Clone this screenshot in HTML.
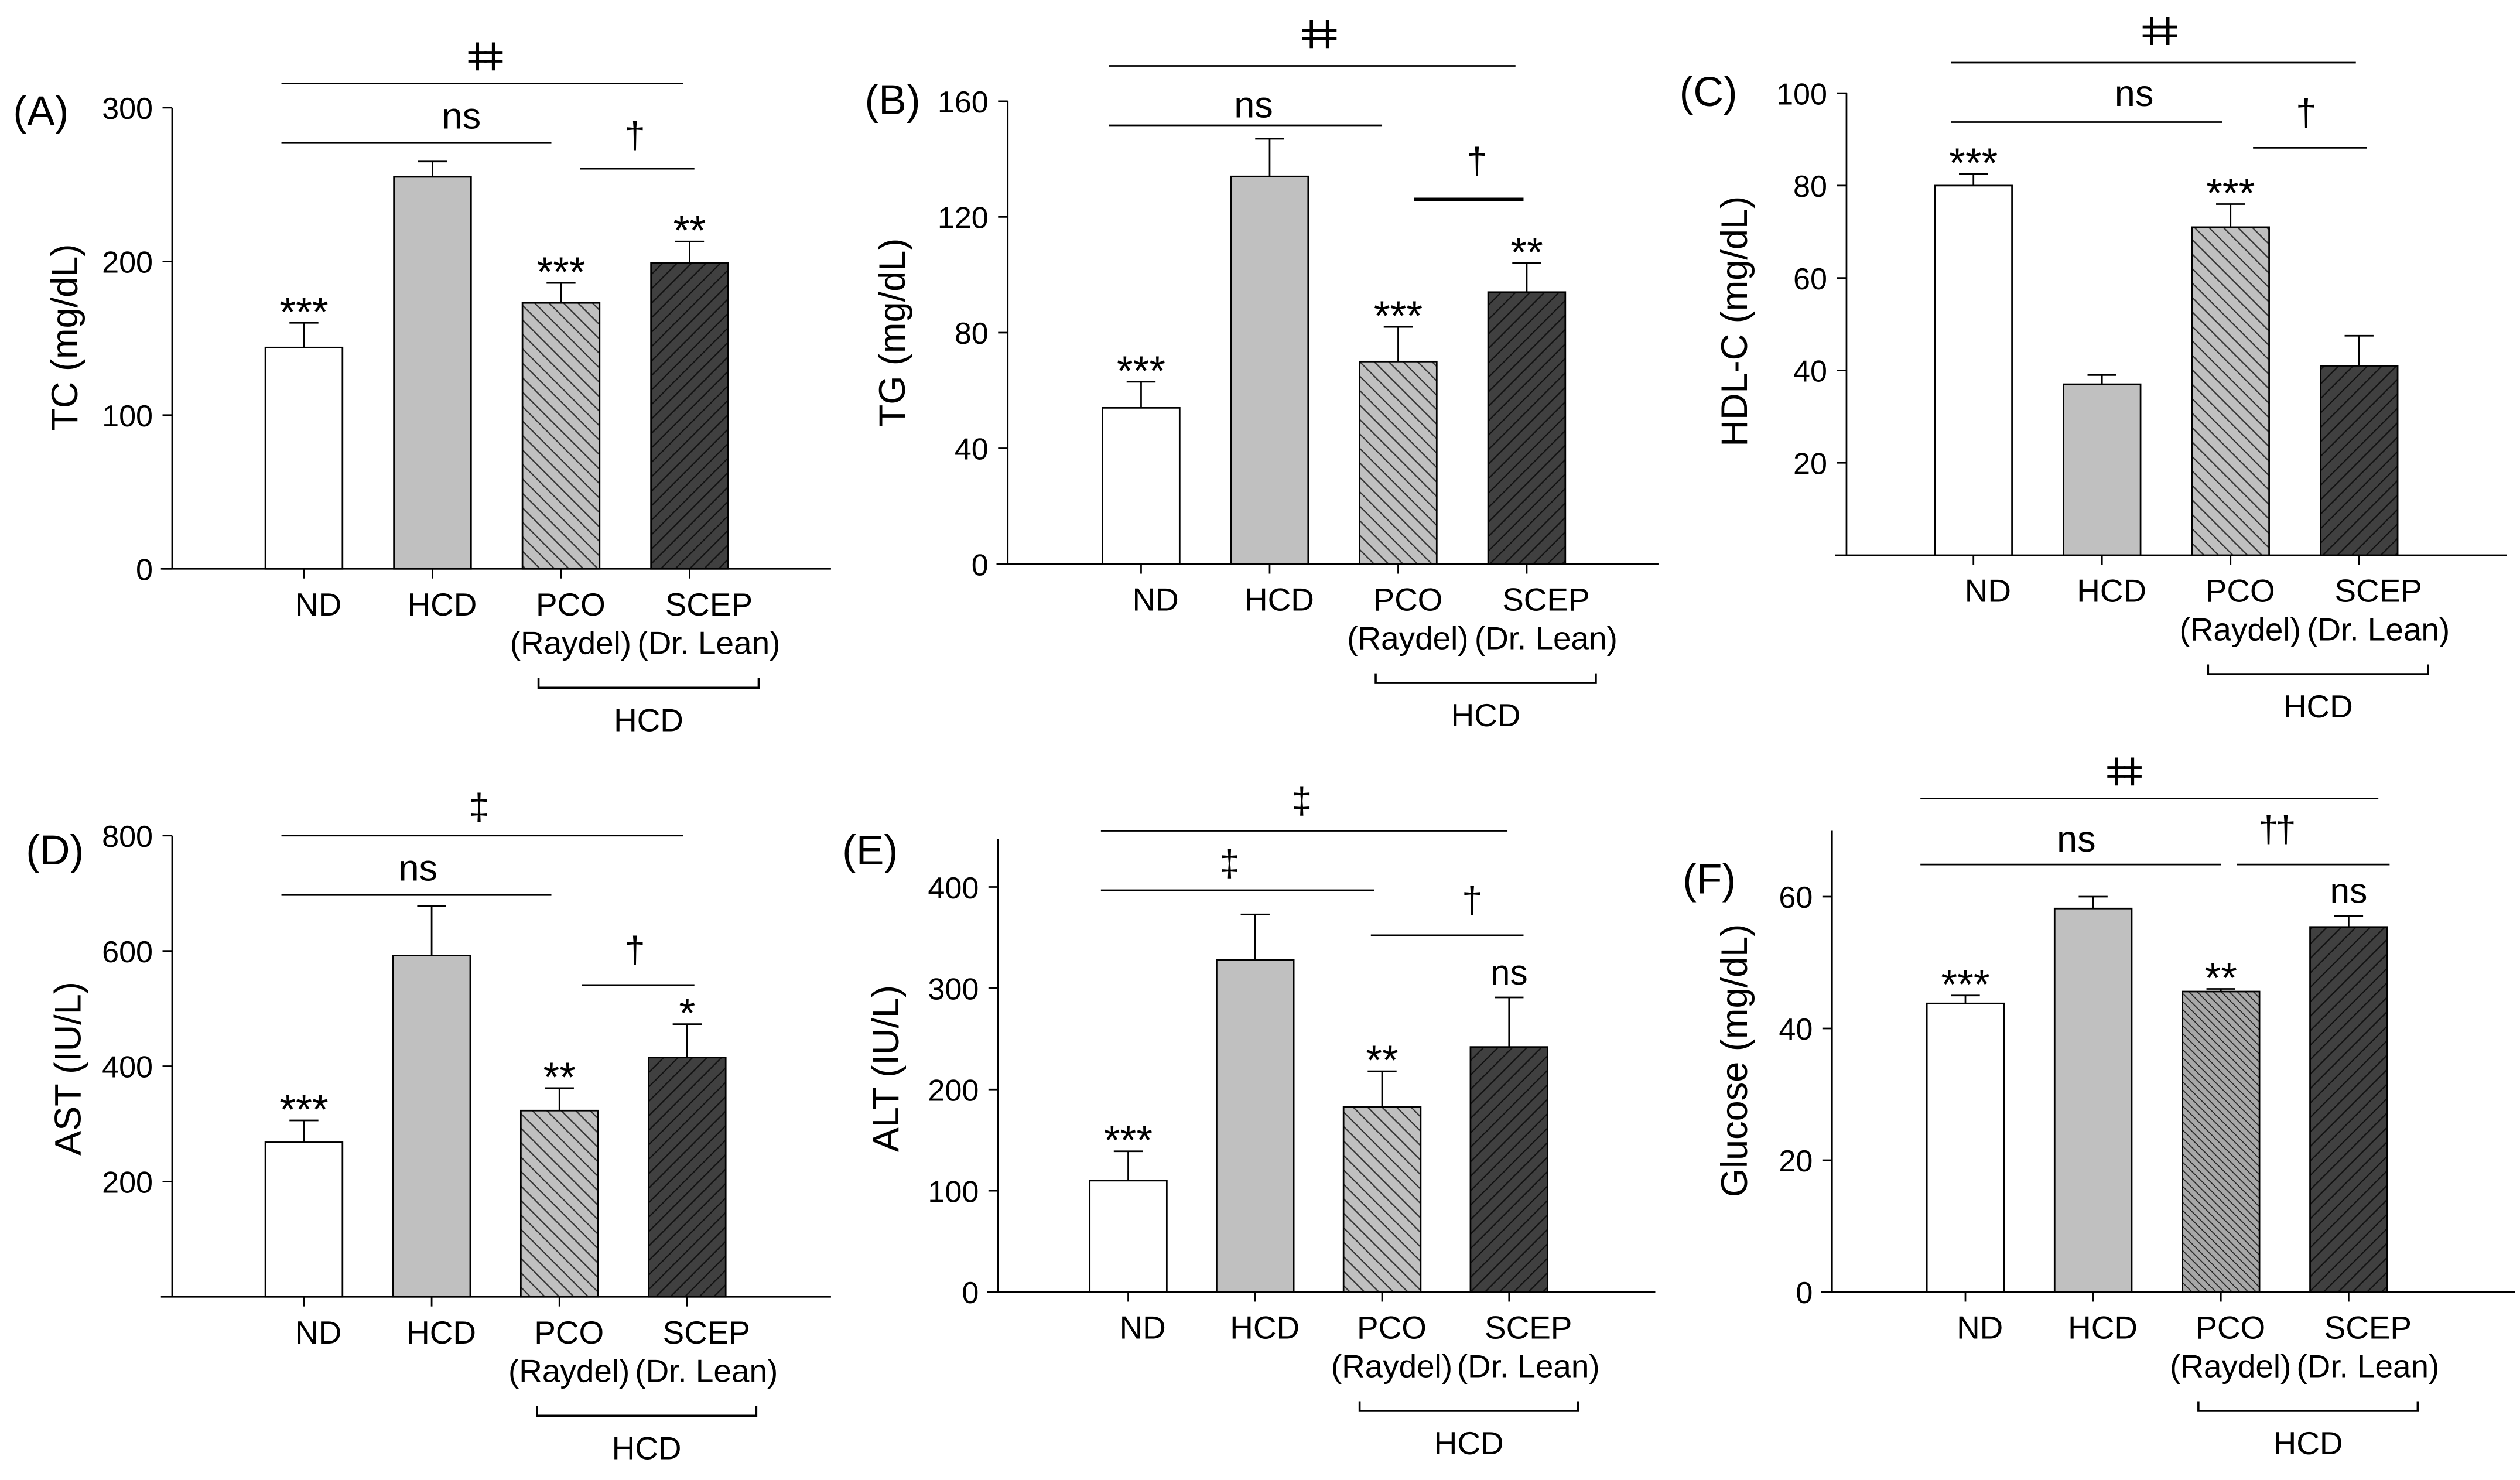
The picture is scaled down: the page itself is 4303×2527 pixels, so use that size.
<!DOCTYPE html>
<html><head><meta charset="utf-8"><style>
html,body{margin:0;padding:0;background:#fff;}
svg{display:block;}
text{font-family:"Liberation Sans","DejaVu Sans",sans-serif;fill:#000;}
</style></head><body>
<svg id="fig" width="4303" height="2527" viewBox="0 0 1568 921" xmlns="http://www.w3.org/2000/svg">
<defs>
<pattern id="hatchBack" patternUnits="userSpaceOnUse" width="9" height="9">
<rect width="9" height="9" fill="#c0c0c0"/><path d="M-1,-1 L10,10 M-1,8 L1,10 M8,-1 L10,1" stroke="#333" stroke-width="0.8"/></pattern>
<pattern id="hatchBackDense" patternUnits="userSpaceOnUse" width="5" height="5">
<rect width="5" height="5" fill="#a8a8a8"/><path d="M-1,-1 L6,6 M-1,4 L1,6 M4,-1 L6,1" stroke="#222" stroke-width="0.6"/></pattern>
<pattern id="hatchFwd" patternUnits="userSpaceOnUse" width="9" height="9">
<rect width="9" height="9" fill="#404040"/><path d="M-1,10 L10,-1 M-1,1 L1,-1 M8,10 L10,8" stroke="#111" stroke-width="0.8"/></pattern>
</defs>
</svg>
<script>
// ---- data ----
const categories = ["ND", "HCD", "PCO", "SCEP"];
const subLabels = ["", "", "(Raydel)", "(Dr. Lean)"];
const tcValues = [144, 255, 173, 199];
const tcErrors = [16, 10, 13, 14];
const tgValues = [54, 134, 70, 94];
const tgErrors = [9, 13, 12, 10];
const hdlValues = [80, 37, 71, 41];
const hdlErrors = [2.5, 2, 5, 6.5];
const astValues = [268, 592, 323, 415];
const astErrors = [38, 86, 39, 58];
const altValues = [110, 328, 183, 242];
const altErrors = [29, 45, 35, 49];
const gluValues = [43.8, 58.2, 45.6, 55.4];
const gluErrors = [1.2, 1.8, 0.4, 1.7];
const tcTicks = [0, 100, 200, 300];
const tgTicks = [0, 40, 80, 120, 160];
const hdlTicks = [20, 40, 60, 80, 100];
const astTicks = [200, 400, 600, 800];
const altTicks = [0, 100, 200, 300, 400];
const gluTicks = [0, 20, 40, 60];
const tcStars = ["***", "", "***", "**"];
const tgStars = ["***", "", "***", "**"];
const hdlStars = ["***", "", "***", ""];
const astStars = ["***", "", "**", "*"];
const altStars = ["***", "", "**", "ns"];
const gluStars = ["***", "", "**", "ns"];

const NS = "http://www.w3.org/2000/svg";
const svg = document.getElementById("fig");
function mk(tag, attrs, parent, txt){
  const e = document.createElementNS(NS, tag);
  for (const k in attrs) e.setAttribute(k, attrs[k]);
  if (txt !== undefined) e.textContent = txt;
  (parent || svg).appendChild(e);
  return e;
}
const fills = ["#ffffff", "#c0c0c0", "url(#hatchBack)", "url(#hatchFwd)"];

function panel(p){
  const g = mk("g", {});
  
  
  const y = v => p.y0 - (v / p.refVal) * (p.y0 - p.refPix);
  const ya = mk("line", {x1:p.ax, y1:p.axTop, x2:p.ax, y2:p.y0, stroke:"#000", "stroke-width":1}, g);
  
  
  const xa = mk("line", {x1:p.ax - 7, y1:p.y0, x2:p.axEnd, y2:p.y0, stroke:"#000", "stroke-width":1}, g);
  
  
  p.ticks.forEach(t => {
    const yy = y(t);
    mk("line", {x1:p.ax - 6, y1:yy, x2:p.ax, y2:yy, stroke:"#000", "stroke-width":1}, g);
    const tl = mk("text", {x:p.ax - 12, y:yy + 7, "text-anchor":"end", "font-size":19}, g, String(t));
    
    
  });
  const yt = mk("text", {x:p.ylx, y:p.yly, "text-anchor":"middle", "font-size":23, transform:"rotate(-90 " + p.ylx + " " + p.yly + ")"}, g, p.ytitle);
  
  
  const pl = mk("text", {x:p.plx, y:p.ply, "font-size":26}, g, p.label);
  
  
  p.values.forEach((v, i) => {
    const x0 = p.bar0 + i * p.step, w = 48, cx = x0 + w / 2;
    const top = y(v), et = y(v + p.errors[i]);
    mk("line", {x1:cx, y1:top, x2:cx, y2:et, stroke:"#000", "stroke-width":1}, g);
    mk("line", {x1:cx - 9, y1:et, x2:cx + 9, y2:et, stroke:"#000", "stroke-width":1}, g);
    const r = mk("rect", {x:x0, y:top, width:w, height:p.y0 - top, fill:(i === 2 && p.dense) ? "url(#hatchBackDense)" : fills[i], stroke:"#000", "stroke-width":1}, g);
    
    
    mk("line", {x1:cx, y1:p.y0, x2:cx, y2:p.y0 + 6, stroke:"#000", "stroke-width":1}, g);
    if (p.stars[i]) {
      const isNs = p.stars[i] === "ns";
      const st = mk("text", {x:cx, y:et - 8 + (isNs ? 0 : 10), "text-anchor":"middle", "font-size":isNs ? 22 : 26}, g, p.stars[i]);
      
      
    }
    const off = i === 0 ? 9 : (i === 3 ? 12 : 6);
    const cl = mk("text", {x:cx + off, y:p.y0 + 29, "text-anchor":"middle", "font-size":20}, g, categories[i]);
    
    
    if (subLabels[i]) {
      const sl = mk("text", {x:cx + off, y:p.y0 + 53, "text-anchor":"middle", "font-size":20}, g, subLabels[i]);
      
      
    }
  });
  const bx1 = p.bar0 + 2 * p.step + 10, bx2 = p.bar0 + 3 * p.step + 67, by = p.y0 + 74;
  const br = mk("path", {d:"M" + bx1 + "," + (by - 6) + " L" + bx1 + "," + by + " L" + bx2 + "," + by + " L" + bx2 + "," + (by - 6), fill:"none", stroke:"#000", "stroke-width":1.3}, g);
  
  
  const bt = mk("text", {x:(bx1 + bx2) / 2, y:by + 27, "text-anchor":"middle", "font-size":20}, g, "HCD");
  
  
  p.sig.forEach(s => {
    const l = mk("line", {x1:s[0], y1:s[2], x2:s[1], y2:s[2], stroke:"#000", "stroke-width":s[5] || 1}, g);
    
    
    const t = mk("text", {x:s[3], y:s[4], "text-anchor":"middle", "font-size":s[6] || 23, "letter-spacing":s[7] || 0}, g, s[8]);
    
    
  });
}

panel({id:"a", label:"(A)", plx:8, ply:78, ytitle:"TC (mg/dL)", ylx:48, yly:210, ax:107, axTop:67, axEnd:517, y0:354, refVal:300, refPix:67, ticks:tcTicks, bar0:165, step:80, values:tcValues, errors:tcErrors, stars:tcStars,
  sig:[[175,425,52,300,44,1,24,-4,"ǂǂ"],[175,343,89,287,80,1,23,0,"ns"],[361,432,105,395,92,1,23,0,"†"]]});
panel({id:"b", label:"(B)", plx:538, ply:71, ytitle:"TG (mg/dL)", ylx:563, yly:207, ax:627, axTop:63, axEnd:1032, y0:351, refVal:160, refPix:63, ticks:tgTicks, bar0:686, step:80, values:tgValues, errors:tgErrors, stars:tgStars,
  sig:[[690,943,41,819,30,1,24,-4,"ǂǂ"],[690,860,78,780,73,1,23,0,"ns"],[880,948,124,919,108,2,23,0,"†"]]});
panel({id:"c", label:"(C)", plx:1045, ply:66, ytitle:"HDL-C (mg/dL)", ylx:1087, yly:200, ax:1149, axTop:58, axEnd:1560, y0:345.5, refVal:100, refPix:58, ticks:hdlTicks, bar0:1204, step:80, values:hdlValues, errors:hdlErrors, stars:hdlStars,
  sig:[[1214,1466,39,1342,28,1,24,-4,"ǂǂ"],[1214,1383,76,1328,66,1,23,0,"ns"],[1402,1473,92,1435,78,1,23,0,"†"]]});
panel({id:"d", label:"(D)", plx:16, ply:538, ytitle:"AST (IU/L)", ylx:50, yly:665, ax:107, axTop:520, axEnd:517, y0:807, refVal:800, refPix:520, ticks:astTicks, bar0:165, step:79.5, values:astValues, errors:astErrors, stars:astStars,
  sig:[[175,425,520,298,510,1,23,0,"‡"],[175,343,557,260,548,1,23,0,"ns"],[362,432,613,395,599,1,23,0,"†"]]});
panel({id:"e", label:"(E)", plx:524, ply:538, ytitle:"ALT (IU/L)", ylx:559, yly:665, ax:621, axTop:522, axEnd:1030, y0:804, refVal:400, refPix:552, ticks:altTicks, bar0:678, step:79, values:altValues, errors:altErrors, stars:altStars,
  sig:[[685,938,517,810,506,1,23,0,"‡"],[685,855,554,765,545,1,23,0,"‡"],[853,948,582,916,568,1,23,0,"†"]]});
panel({id:"f", label:"(F)", plx:1047, ply:556, ytitle:"Glucose (mg/dL)", ylx:1087, yly:660, ax:1140, axTop:517, axEnd:1565, y0:804, refVal:60, refPix:558, ticks:gluTicks, bar0:1199, step:79.5, values:gluValues, errors:gluErrors, stars:gluStars, dense:true,
  sig:[[1195,1480,497,1320,489,1,24,-4,"ǂǂ"],[1195,1382,538,1292,530,1,23,0,"ns"],[1392,1487,538,1416,524,1,23,-2,"††"]]});
</script>
</body></html>
